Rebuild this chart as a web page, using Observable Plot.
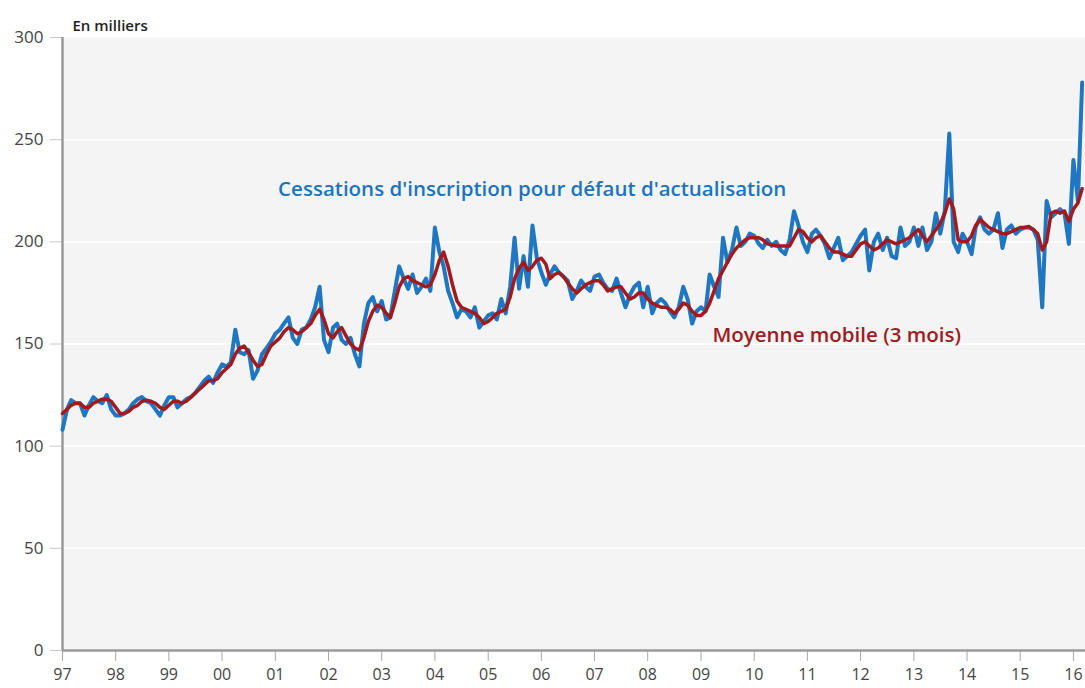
<!DOCTYPE html>
<html><head><meta charset="utf-8">
<script src="https://cdn.jsdelivr.net/npm/d3@7"></script>
<script src="https://cdn.jsdelivr.net/npm/@observablehq/plot@0.6"></script>
<style>
body{margin:0;background:#fff;font-family:"Open Sans",sans-serif}
#chart{width:1085px;height:688px}
</style>
</head><body><div id="chart"></div>
<script>
// Monthly series, starting January 1997 (in thousands)
const startYear = 1997;
const cessations = [
  108,118,122.5,121,121,115,120,124,122,121,125,118,
  115,115,116,118,121,123,124,122,121,118,115,120,
  124,124,119,121,123,124,126,129,132,134,131,136,
  140,139,141,157,146,145,147,133,137,145,148,151,
  155,157,160,163,153,150,157,158,162,168,178,152,
  146,158,160,152,150,153,145,139,160,170,173,166,
  171,162,163,176,188,182,177,184,175,178,182,176,
  207,195,188,176,170,163,167,166,163,168,158,161,
  164,165,162,172,165,178,202,177,193,178,208,192,
  185,179,184,188,185,183,181,172,176,181,178,176,
  183,184,180,177,176,182,175,168,174,178,180,168,
  178,165,170,172,170,166,163,168,178,172,160,166,
  168,166,184,178,173,202,190,196,207,198,200,204,
  203,199,197,201,198,200,196,194,201,215,208,200,
  195,204,206,203,199,192,197,202,191,193,195,199,
  203,206,186,200,204,196,202,193,192,207,198,200,
  207,198,207,196,200,214,204,215,253,200,195,204,
  200,194,207,212,206,204,206,214,197,206,208,204,
  206,207,207,206,201,168,220,212,214,216,214,199,
  240,220,278
];
const moyenneMobile = [
  116,118,120,121,121,119,119,121,122,123,123,122,
  119,116,116,117,119,120,122,122.5,122,121,119,118,
  120,122,122,121,122,124,126,128,130,132,132,133,
  136,138,140,145,148,149,146,142,139,140,145,149,
  151,153,156,158,157,155,156,158,160,164,167,162,
  155,153,156,158,154,150,148,147,153,161,166,169,
  168,165,163,170,178,182,183,181,180,179,178,179,
  184,191,195,188,179,171,168,167,166,165,163,160,
  161,163,165,166,167,173,182,187,190,186,188,191,
  192,189,182,184,185,183,180,177,175,177,179,180,
  181,181,179,176,177,178,178,175,172,173,175,175,
  172,170,169,168,168,167,165,167,170,169,166,164,
  164,166,170,176,182,186,190,194,197,199,201,202,
  202,202,201,199,198.5,198,198,198,198,202,206,205,
  202,200,202,203,200,197,195,195,194,193,193,196,
  199,200,198,196,197,199,201,200,199,200,201,202,
  204,206,203,200,203,206,209,214,221,216,201,200,
  200,203,208,211,209,207,206,205,204,204,205,206,
  207,207,207.5,206,204,196,200,214,215,214,215,210,
  216,219,226
];
const yTicks = [0, 50, 100, 150, 200, 250, 300];
const xTickYears = d3.range(1997, 2017);
const unitLabel = "En milliers";
const labelTexts = ["Cessations d'inscription pour défaut d'actualisation", "Moyenne mobile (3 mois)"];
const labelDates = ["2001-01-20", "2009-03-20"];
const labelValues = [225.5, 154];
const labelColors = ["#1b74c0", "#9e1b1e"];

const toDate = i => new Date(Date.UTC(startYear, i, 1));
const blueRows = cessations.map((v, i) => ({date: toDate(i), value: v}));
const redRows = moyenneMobile.map((v, i) => ({date: toDate(i), value: v}));
const labels = labelTexts.map((t, i) => ({text: t, date: new Date(labelDates[i]), value: labelValues[i], color: labelColors[i]}));
const xTicks = xTickYears.map(y => new Date(Date.UTC(y, 0, 1)));
const x0 = new Date(Date.UTC(1997, 0, 1));
const x1 = new Date(Date.UTC(2016, 2, 24));
const fmt = d3.utcFormat("%y");

const chart = Plot.plot({
  width: 1085,
  height: 688,
  marginLeft: 62,
  marginRight: 0,
  marginTop: 37,
  marginBottom: 38,
  style: {fontFamily: "'Open Sans', sans-serif", fontSize: "16px", color: "#444", background: "white", overflow: "visible"},
  x: {type: "utc", domain: [x0, x1]},
  y: {domain: [0, 300]},
  marks: [
    Plot.frame({fill: "#f4f4f4", stroke: null}),
    Plot.ruleY(yTicks.slice(1, -1), {stroke: "white", strokeWidth: 1.5}),
    Plot.axisY(yTicks, {tickSize: 12, tickPadding: 7, stroke: "#c8c8c8", fill: "#444", label: null, fontSize: 17}),
    Plot.axisX(xTicks, {tickSize: 11, tickPadding: 7, stroke: "#aaa", fill: "#444", label: null, tickFormat: d => fmt(d), fontSize: 16}),
    Plot.ruleX([x0], {stroke: "#9a9a9a", strokeWidth: 2.5}),
    Plot.ruleY([0], {stroke: "#9a9a9a", strokeWidth: 2.5}),
    Plot.line(blueRows, {x: "date", y: "value", stroke: "#1f77c2", strokeWidth: 4, strokeLinejoin: "round"}),
    Plot.line(redRows, {x: "date", y: "value", stroke: "#a31a1e", strokeWidth: 3.5, strokeLinejoin: "round"}),
    Plot.text(labels, {x: "date", y: "value", text: "text", fill: "color", textAnchor: "start", fontWeight: 600, fontSize: 20.5}),
    Plot.text([unitLabel], {frameAnchor: "top-left", text: d => d, dx: 10, dy: -17, fontWeight: 600, fontSize: 15, fill: "#222", textAnchor: "start"})
  ]
});
document.getElementById("chart").appendChild(chart);
</script>
</body></html>
